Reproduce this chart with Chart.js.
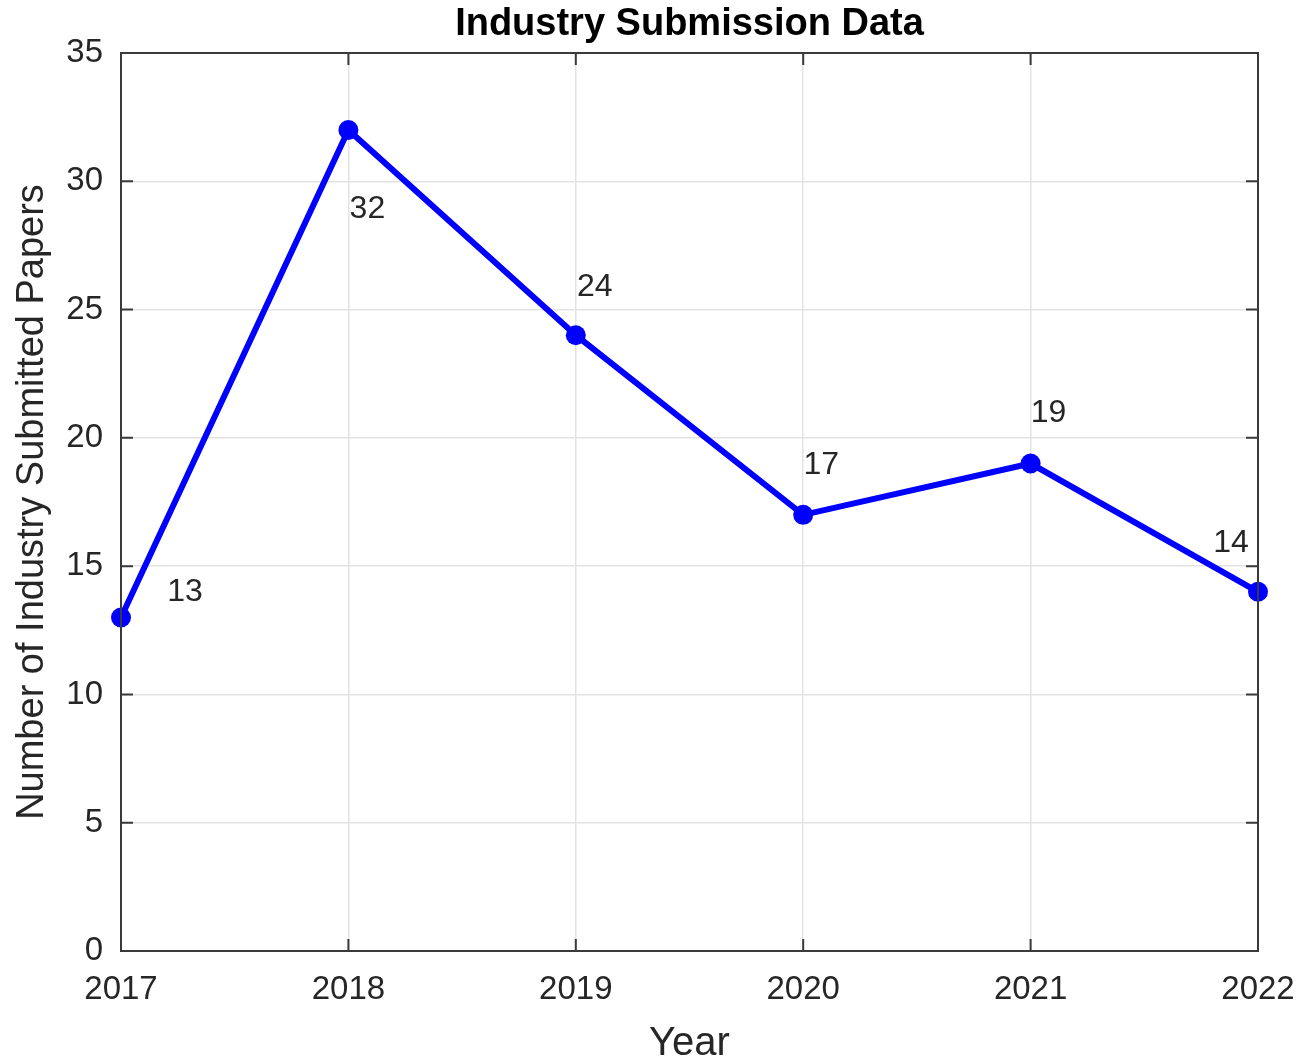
<!DOCTYPE html>
<html>
<head>
<meta charset="utf-8">
<title>Industry Submission Data</title>
<script src="https://cdn.jsdelivr.net/npm/chart.js@4/dist/chart.umd.min.js"></script>
<style>
  body { margin: 0; background: #fff; }
</style>
</head>
<body>
<canvas id="myChart" width="1299" height="1057"></canvas>
<script>
// data
var years = [2017, 2018, 2019, 2020, 2021, 2022];
var papers = [13, 32, 24, 17, 19, 14];
var yTicks = [0, 5, 10, 15, 20, 25, 30, 35];
// where each value label sits relative to its point (px)
var labelDx = [64, 19, 19, 18, 18, -27];
var labelDy = [-26, 78, -49, -51, -51, -50];

var axisColor = '#3a3a3a';
var textColor = '#262626';
var fontFamily = '"Liberation Sans", Arial, sans-serif';

// box around the plot with inward ticks, like the original
var boxPlugin = {
  id: 'box',
  afterDraw: function(chart) {
    var ctx = chart.ctx;
    var a = chart.chartArea;
    var xs = chart.scales.x, ys = chart.scales.y;
    ctx.save();
    ctx.strokeStyle = axisColor;
    ctx.lineWidth = 2;
    ctx.strokeRect(a.left, a.top, a.right - a.left, a.bottom - a.top);
    var len = 12;
    ctx.beginPath();
    for (var i = 0; i < years.length; i++) {
      var px = xs.getPixelForValue(years[i]);
      ctx.moveTo(px, a.bottom); ctx.lineTo(px, a.bottom - len);
      ctx.moveTo(px, a.top); ctx.lineTo(px, a.top + len);
    }
    for (var j = 0; j < yTicks.length; j++) {
      var py = ys.getPixelForValue(yTicks[j]);
      ctx.moveTo(a.left, py); ctx.lineTo(a.left + len, py);
      ctx.moveTo(a.right, py); ctx.lineTo(a.right - len, py);
    }
    ctx.stroke();
    ctx.restore();
  }
};

var valueLabels = {
  id: 'valueLabels',
  afterDatasetsDraw: function(chart) {
    var ctx = chart.ctx;
    var pts = chart.getDatasetMeta(0).data;
    ctx.save();
    ctx.font = '32px ' + fontFamily;
    ctx.fillStyle = textColor;
    ctx.textAlign = 'center';
    ctx.textBaseline = 'middle';
    for (var i = 0; i < pts.length; i++) {
      ctx.fillText(String(papers[i]), pts[i].x + labelDx[i], pts[i].y + labelDy[i] + 1);
    }
    ctx.restore();
  }
};

var ctx = document.getElementById('myChart').getContext('2d');
var chart = new Chart(ctx, {
  type: 'line',
  data: {
    datasets: [{
      data: years.map(function(y, i) { return { x: y, y: papers[i] }; }),
      borderColor: '#0000ff',
      backgroundColor: '#0000ff',
      borderWidth: 6,
      pointRadius: 10,
      pointHoverRadius: 10,
      pointBorderWidth: 0,
      tension: 0,
      clip: false
    }]
  },
  options: {
    responsive: false,
    animation: false,
    layout: { padding: { left: 0, right: 41, top: 0, bottom: 0 } },
    plugins: {
      legend: { display: false },
      tooltip: { enabled: false },
      title: {
        display: true,
        text: 'Industry Submission Data',
        fullSize: false,
        color: '#000',
        font: { family: fontFamily, size: 38, weight: 'bold', lineHeight: 1 },
        padding: { top: 6, bottom: 9 }
      }
    },
    scales: {
      x: {
        type: 'linear',
        min: 2017,
        max: 2022,
        afterBuildTicks: function(scale) {
          scale.ticks = years.map(function(v) { return { value: v }; });
        },
        afterFit: function(scale) {
          scale.height = 106;
          scale.paddingLeft = 0;
          scale.paddingRight = 0;
        },
        grid: { color: '#e3e3e3', lineWidth: 1.5, drawTicks: false },
        border: { display: false },
        ticks: {
          color: textColor,
          padding: 19,
          maxRotation: 0,
          font: { family: fontFamily, size: 33 },
          callback: function(v) { return String(v); }
        },
        title: {
          display: true,
          text: 'Year',
          color: textColor,
          font: { family: fontFamily, size: 40, lineHeight: 0.65 },
          padding: { top: 0, bottom: 0 }
        }
      },
      y: {
        min: 0,
        max: 35,
        afterBuildTicks: function(scale) {
          scale.ticks = yTicks.map(function(v) { return { value: v }; });
        },
        afterFit: function(scale) {
          scale.width = 121;
          scale.paddingTop = 0;
          scale.paddingBottom = 0;
        },
        grid: { color: '#e3e3e3', lineWidth: 1.5, drawTicks: false },
        border: { display: false },
        ticks: {
          color: textColor,
          padding: 18,
          font: { family: fontFamily, size: 33 }
        },
        title: {
          display: true,
          text: 'Number of Industry Submitted Papers',
          color: textColor,
          font: { family: fontFamily, size: 38, lineHeight: 1 },
          padding: { top: 14, bottom: 0 }
        }
      }
    }
  },
  plugins: [boxPlugin, valueLabels]
});
</script>
</body>
</html>
